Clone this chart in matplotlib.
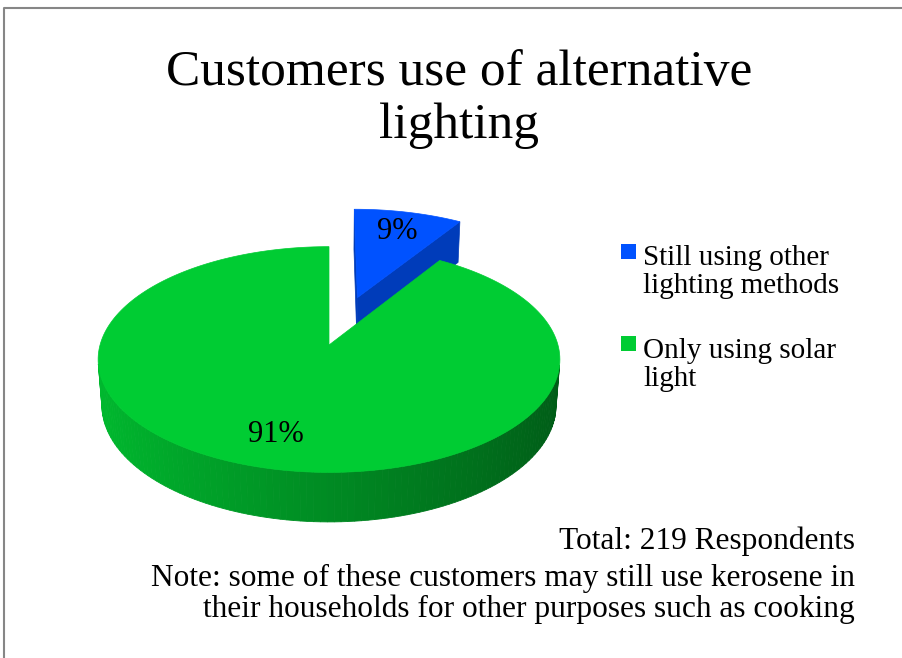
import numpy as np
import matplotlib.pyplot as plt
from matplotlib.patches import Polygon, Rectangle
from matplotlib.lines import Line2D

# data
categories = ['Still using other\nlighting methods', 'Only using solar\nlight']
shares = [9, 91]
colors = [(0.0, 0.32, 1.0), (0.0, 0.80, 0.20)]
explode = [0.47, 0.0]

title = 'Customers use of alternative\nlighting'
total_text = 'Total: 219 Respondents'
note_text = ('Note: some of these customers may still use kerosene in\n'
             'their households for other purposes such as cooking')

FONT = 'Liberation Serif'

# simple perspective camera for the tilted pie
tilt = np.radians(29)
dist = 6.8
focal = 1557.0
thick = 0.23
cx, cy = 329, 345   # where the pie centre lands on the canvas
cam = np.array([0.0, -dist * np.cos(tilt), dist * np.sin(tilt)])


def project(u, v, z):
    depth = dist + v * np.cos(tilt) - z * np.sin(tilt)
    sx = focal * u / depth
    sy = focal * (v * np.sin(tilt) + z * np.cos(tilt)) / depth
    return cx + sx, cy - sy


def facing(normal, point):
    return np.dot(normal, cam - point) > 0


def shade(rgb, k):
    return tuple(min(1.0, c * k) for c in rgb)


fig = plt.figure(figsize=(9.03, 6.58), dpi=100)
ax = fig.add_axes([0, 0, 1, 1])
ax.set_xlim(0, 903)
ax.set_ylim(658, 0)
ax.axis('off')

# wedges go clockwise from 12 o'clock
fracs = np.array(shares) / np.sum(shares)
ends = 90 - 360 * np.cumsum(fracs)
starts = np.r_[90, ends[:-1]]

for i in range(len(shares)):
    t1, t2 = np.radians(ends[i]), np.radians(starts[i])
    mid = (t1 + t2) / 2
    ou, ov = explode[i] * np.cos(mid), explode[i] * np.sin(mid)
    col = colors[i]
    ts = np.linspace(t1, t2, max(8, int(np.degrees(t2 - t1) / 1.5)))

    # cut faces on both straight edges
    for t, sgn in ((t1, 1), (t2, -1)):
        n = np.array([sgn * np.sin(t), -sgn * np.cos(t), 0])
        p = np.array([ou + 0.5 * np.cos(t), ov + 0.5 * np.sin(t), 0])
        if facing(n, p):
            pts = [project(ou, ov, 0), project(ou + np.cos(t), ov + np.sin(t), 0),
                   project(ou + np.cos(t), ov + np.sin(t), -thick), project(ou, ov, -thick)]
            c = shade(col, 0.73)
            ax.add_patch(Polygon(pts, closed=True, fc=c, ec=c, lw=0.5))

    # outer wall
    for a, b in zip(ts[:-1], ts[1:]):
        m = (a + b) / 2
        n = np.array([np.cos(m), np.sin(m), 0])
        p = np.array([ou + np.cos(m), ov + np.sin(m), 0])
        if not facing(n, p):
            continue
        pts = [project(ou + np.cos(a), ov + np.sin(a), 0),
               project(ou + np.cos(b), ov + np.sin(b), 0),
               project(ou + np.cos(b), ov + np.sin(b), -thick),
               project(ou + np.cos(a), ov + np.sin(a), -thick)]
        c = shade(col, 0.68 - 0.23 * np.cos(m))
        ax.add_patch(Polygon(pts, closed=True, fc=c, ec=c, lw=0.6))

    # top face
    top = [project(ou, ov, 0)] + [project(ou + np.cos(t), ov + np.sin(t), 0) for t in ts]
    ax.add_patch(Polygon(top, closed=True, fc=col, ec=col, lw=0.5))

    # percentage label
    lx, ly = project(ou + 0.76 * np.cos(mid), ov + 0.76 * np.sin(mid), 0)
    ax.text(lx, ly, f'{shares[i]}%', fontsize=22, family=FONT,
            ha='center', va='center')

# legend (text anchored on the baseline of its last line)
leg_y = [251, 343]
leg_base = [293, 386]
for i, lab in enumerate(categories):
    ax.add_patch(Rectangle((621, leg_y[i] - 7), 15, 15, fc=colors[i], ec='none'))
    ax.text(643, leg_base[i], lab, fontsize=21, family=FONT,
            ha='left', va='baseline', linespacing=1.1)

ax.text(459, 138, title, fontsize=37, family=FONT, ha='center', va='baseline',
        linespacing=1.19)
ax.text(855, 549, total_text, fontsize=22.6, family=FONT, ha='right', va='baseline')
ax.text(855, 617, note_text, fontsize=22.6, family=FONT, ha='right', va='baseline',
        linespacing=1.05)

# chart area frame (top and left edges)
ax.add_line(Line2D([4, 4, 903], [658, 8, 8], color='#868686', lw=1.5))

fig.savefig('out.png', dpi=100)
